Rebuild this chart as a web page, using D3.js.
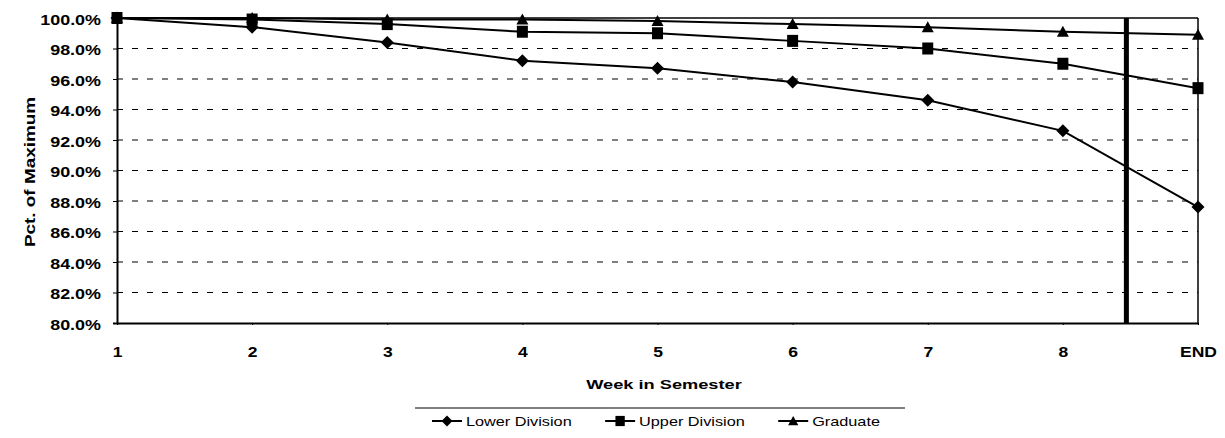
<!DOCTYPE html>
<meta charset="utf-8">
<html>
<style>
body { margin: 0; background: #fff; }
text { font-family: "Liberation Sans", Arial, sans-serif; fill: #000; }
.line { fill: none; stroke: #000; stroke-width: 2px; }
.grid line { stroke: #000; stroke-width: 1px; stroke-dasharray: 6,9; }
</style>
<body>
<script src="https://d3js.org/d3.v7.min.js"></script>
<script>

// categories and series (pct. of maximum)
var weeks = ["1", "2", "3", "4", "5", "6", "7", "8", "END"];
var lowerDivision = [100.0, 99.4, 98.4, 97.2, 96.7, 95.8, 94.6, 92.6, 87.6];
var upperDivision = [100.0, 99.9, 99.6, 99.1, 99.0, 98.5, 98.0, 97.0, 95.4];
var graduate      = [100.0, 100.0, 99.9, 99.9, 99.8, 99.6, 99.4, 99.1, 98.9];
var yTicks = [80, 82, 84, 86, 88, 90, 92, 94, 96, 98, 100];
// thick marker line between week 8 and END
var cutoffFrom = "8", cutoffFrac = 0.47;

var W = 1225, H = 438;

var svg = d3.select("body").append("svg")
    .attr("width", W)
    .attr("height", H);

// set the ranges
var x = d3.scalePoint().domain(weeks).range([117, 1198]);
var y = d3.scaleLinear().domain([80, 100]).range([323, 18]);

// scanned text is wide, so stretch every label
function widen(sel, k) {
  sel.each(function() {
    var w = this.getComputedTextLength();
    d3.select(this).attr("textLength", w * k).attr("lengthAdjust", "spacingAndGlyphs");
  });
}

// dashed gridlines
svg.append("g")
    .attr("class", "grid")
  .selectAll("line")
  .data(yTicks.filter(function(d) { return d > 80 && d < 100; }))
  .enter().append("line")
    .attr("x1", x.range()[0])
    .attr("x2", x.range()[1])
    .attr("y1", function(d) { return y(d); })
    .attr("y2", function(d) { return y(d); });

// top and right border of plot
svg.append("line")
    .attr("x1", x.range()[0]).attr("x2", x.range()[1])
    .attr("y1", y(100)).attr("y2", y(100))
    .attr("stroke", "#000").attr("stroke-width", 1.5);
svg.append("line")
    .attr("x1", x.range()[1]).attr("x2", x.range()[1])
    .attr("y1", y(100)).attr("y2", y(80))
    .attr("stroke", "#000").attr("stroke-width", 1.5);

// thick vertical line
var cx = x(cutoffFrom) + cutoffFrac * x.step();
svg.append("line")
    .attr("x1", cx).attr("x2", cx)
    .attr("y1", y(100)).attr("y2", y(80))
    .attr("stroke", "#000").attr("stroke-width", 5);

// Y axis
var yAxis = svg.append("g")
    .attr("transform", "translate(" + x.range()[0] + ",0)")
    .call(d3.axisLeft(y).tickValues(yTicks).tickSize(4).tickPadding(12)
      .tickFormat(function(d) { return d.toFixed(1) + "%"; }));
yAxis.select(".domain").attr("stroke-width", 2);
yAxis.selectAll("text")
    .style("font-size", "14px")
    .style("font-weight", "bold")
    .attr("dy", "0.45em");
widen(yAxis.selectAll("text"), 1.28);

// X axis
var xAxis = svg.append("g")
    .attr("transform", "translate(0," + y(80) + ")")
    .call(d3.axisBottom(x).tickSize(2).tickPadding(22).tickSizeOuter(0));
xAxis.select(".domain").attr("stroke-width", 2);
xAxis.selectAll("text")
    .style("font-size", "14px")
    .style("font-weight", "bold");
widen(xAxis.selectAll("text"), 1.25);

// series
var series = [
  { name: "Lower Division", values: lowerDivision, shape: "diamond" },
  { name: "Upper Division", values: upperDivision, shape: "square" },
  { name: "Graduate",       values: graduate,      shape: "triangle" }
];

function marker(shape) {
  if (shape == "diamond") return "M0,-6.5L6.5,0L0,6.5L-6.5,0Z";
  if (shape == "square") return "M-5.5,-6L5.5,-6L5.5,6L-5.5,6Z";
  return "M0,-6L6,5L-6,5Z";
}

var valueline = d3.line()
    .x(function(d, i) { return x(weeks[i]); })
    .y(function(d) { return y(d); });

series.slice().reverse().forEach(function(s) {
  svg.append("path")
      .data([s.values])
      .attr("class", "line")
      .attr("d", valueline);
  svg.selectAll(null)
      .data(s.values)
      .enter().append("path")
      .attr("d", marker(s.shape))
      .attr("fill", "#000")
      .attr("transform", function(d, i) {
        return "translate(" + x(weeks[i]) + "," + y(d) + ")";
      });
});

// axis titles
var yTitle = svg.append("text")
    .attr("transform", "translate(35,172) rotate(-90)")
    .attr("text-anchor", "middle")
    .style("font-size", "14px")
    .style("font-weight", "bold")
    .text("Pct. of Maximum");
widen(yTitle, 1.35);

var xTitle = svg.append("text")
    .attr("x", 664)
    .attr("y", 389)
    .attr("text-anchor", "middle")
    .style("font-size", "13px")
    .style("font-weight", "bold")
    .text("Week in Semester");
widen(xTitle, 1.4);

// legend
svg.append("line")
    .attr("x1", 415).attr("x2", 905)
    .attr("y1", 408).attr("y2", 408)
    .attr("stroke", "#000").attr("stroke-width", 1);

var lx = 432, ly = 421;
series.forEach(function(s) {
  svg.append("line")
      .attr("x1", lx).attr("x2", lx + 30)
      .attr("y1", ly).attr("y2", ly)
      .attr("stroke", "#000").attr("stroke-width", 2);
  svg.append("path")
      .attr("d", marker(s.shape))
      .attr("fill", "#000")
      .attr("transform", "translate(" + (lx + 15) + "," + ly + ") scale(0.85)");
  var t = svg.append("text")
      .attr("x", lx + 34)
      .attr("y", ly + 5)
      .style("font-size", "13px")
      .text(s.name);
  widen(t, 1.25);
  lx += 34 + t.node().getComputedTextLength() * 1.25 + 7;
});

</script>
</body>
</html>
